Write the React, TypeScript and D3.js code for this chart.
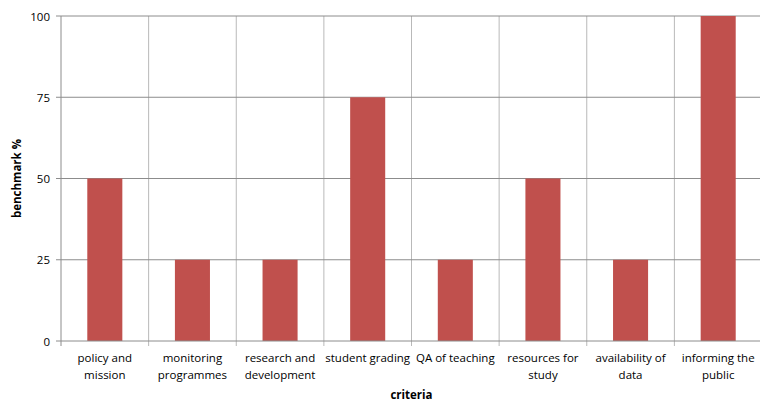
import * as d3 from "d3";

const criteria = [
  "policy and|mission",
  "monitoring|programmes",
  "research and|development",
  "student grading",
  "QA of teaching",
  "resources for|study",
  "availability of|data",
  "informing the|public",
];
const benchmark = [50, 25, 25, 75, 25, 50, 25, 100];
const yTicks = [0, 25, 50, 75, 100];

const WIDTH = 760;
const HEIGHT = 401;
const LEFT = 61;
const RIGHT = 762;
const TOP = 16;
const BOTTOM = 341;
const FONT = "'Open Sans', sans-serif";

const App = () => {
  const x = d3.scaleBand<string>().domain(criteria).range([LEFT, RIGHT]).paddingInner(0).paddingOuter(0);
  const y = d3.scaleLinear().domain([0, 100]).range([BOTTOM, TOP]);
  const bw = x.bandwidth();
  const barW = bw * 0.4;

  const boundaries = criteria.map((c) => x(c) as number).concat([RIGHT]);

  return (
    <svg
      width={WIDTH}
      height={HEIGHT}
      style={{ position: "absolute", left: 0, top: 0, display: "block" }}
    >
      <rect width={WIDTH} height={HEIGHT} fill="#fff" />
      {/* vertical category gridlines */}
      {boundaries.slice(1).map((bx, i) => (
        <line key={"v" + i} x1={bx} x2={bx} y1={TOP} y2={BOTTOM + 5} stroke="#b9b9b9" strokeWidth={1} />
      ))}
      {/* horizontal gridlines */}
      {yTicks.slice(1).map((t) => (
        <line key={"h" + t} x1={LEFT - 5} x2={RIGHT} y1={y(t)} y2={y(t)} stroke="#8c8c8c" strokeWidth={1} />
      ))}
      {/* bars */}
      {criteria.map((c, i) => (
        <rect
          key={c}
          x={(x(c) as number) + (bw - barW) / 2}
          y={y(benchmark[i])}
          width={barW}
          height={BOTTOM - y(benchmark[i])}
          fill="#C0504D"
        />
      ))}
      {/* axes */}
      <line x1={LEFT} x2={LEFT} y1={TOP} y2={BOTTOM} stroke="#8c8c8c" />
      <line x1={LEFT - 5} x2={RIGHT} y1={BOTTOM} y2={BOTTOM} stroke="#8c8c8c" />
      <line x1={LEFT} x2={LEFT} y1={BOTTOM} y2={BOTTOM + 5} stroke="#8c8c8c" />
      {yTicks.map((t) => (
        <text
          key={"yt" + t}
          x={50}
          y={y(t)}
          textAnchor="end"
          dominantBaseline="central"
          fontFamily={FONT}
          fontSize={11.5}
          fill="#000"
        >
          {t}
        </text>
      ))}
      {criteria.map((c) => {
        const lines = c.split("|");
        const cx = (x(c) as number) + bw / 2;
        return (
          <text key={"xl" + c} textAnchor="middle" fontFamily={FONT} fontSize={11.5} fill="#000">
            {lines.map((ln, j) => (
              <tspan key={j} x={cx} y={362 + j * 17}>
                {ln}
              </tspan>
            ))}
          </text>
        );
      })}
      <text
        x={(LEFT + RIGHT) / 2}
        y={399}
        textAnchor="middle"
        fontFamily={FONT}
        fontSize={11.5}
        fontWeight="bold"
      >
        criteria
      </text>
      <text
        transform={`translate(21, ${(TOP + BOTTOM) / 2}) rotate(-90)`}
        textAnchor="middle"
        fontFamily={FONT}
        fontSize={11.5}
        fontWeight="bold"
      >
        benchmark %
      </text>
    </svg>
  );
};

export default App;
